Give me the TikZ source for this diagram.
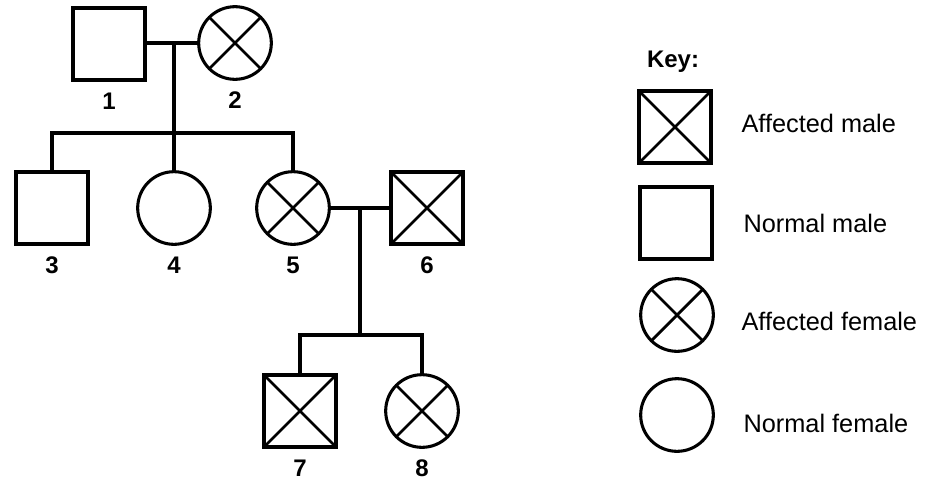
\documentclass[tikz,border=0pt]{standalone}
\usepackage{fontspec}
\setmainfont{Liberation Sans}
\usetikzlibrary{positioning}

\begin{document}
\begin{tikzpicture}[x=0.75pt,y=-0.75pt,
	line width=2.3pt,
	male/.style={draw, rectangle, line width=2.8pt, minimum size=54pt, inner sep=0pt},
	female/.style={draw, circle, line width=2.3pt, minimum size=54.5pt, inner sep=0pt},
	affected/.style={path picture={
		\draw[line width=2.1pt] (path picture bounding box.north west) -- (path picture bounding box.south east)
			(path picture bounding box.south west) -- (path picture bounding box.north east);}},
	num/.style={inner sep=0pt, font=\fontsize{18}{20}\selectfont\bfseries},
	keytext/.style={anchor=west, inner sep=0pt, font=\fontsize{19}{22}\selectfont}]
\useasboundingbox (0,0) rectangle (934,483);

\node[male] (n1) at (109,44) {};
\node[female, affected] (n2) at (235,43) {};
\node[male] (n3) at (52,208) {};
\node[female] (n4) at (174,208) {};
\node[female, affected] (n5) at (293,208) {};
\node[male, affected] (n6) at (427,208) {};
\node[male, affected] (n7) at (300,411) {};
\node[female, affected] (n8) at (422,411) {};

\node[num, below=7pt of n1] (l1) {1};
\node[num, below=7pt of n2] (l2) {2};
\node[num, below=7pt of n3] (l3) {3};
\node[num, below=7pt of n4] (l4) {4};
\node[num, below=7pt of n5] (l5) {5};
\node[num, below=7pt of n6] (l6) {6};
\node[num, below=7pt of n7] (l7) {7};
\node[num, below=7pt of n8] (l8) {8};

\coordinate (m12) at (174,43);
\coordinate (s12) at (174,133);
\coordinate (m56) at (360,208);
\coordinate (s56) at (360,335);

\draw (n1.east |- m12) -- (n2.west);
\draw (m12) -- (s12) -- (n4.north);
\draw (n3.north) |- (s12) -| (n5.north);
\draw (n5.east) -- (n6.west);
\draw (m56) -- (s56);
\draw (n7.north) |- (s56) -| (n8.north);

\node[font=\fontsize{18}{20}\selectfont\bfseries] (key) at (673,62) {Key:};
\node[male, affected] (k1) at (675,127) {};
\node[male] (k2) at (676,223) {};
\node[female, affected] (k3) at (677,315) {};
\node[female] (k4) at (677,415) {};
\node[keytext] (t1) at (740,123) {Affected male};
\node[keytext] (t2) at (742,223) {Normal male};
\node[keytext] (t3) at (740,321) {Affected female};
\node[keytext] (t4) at (742,423) {Normal female};
\end{tikzpicture}
\end{document}
